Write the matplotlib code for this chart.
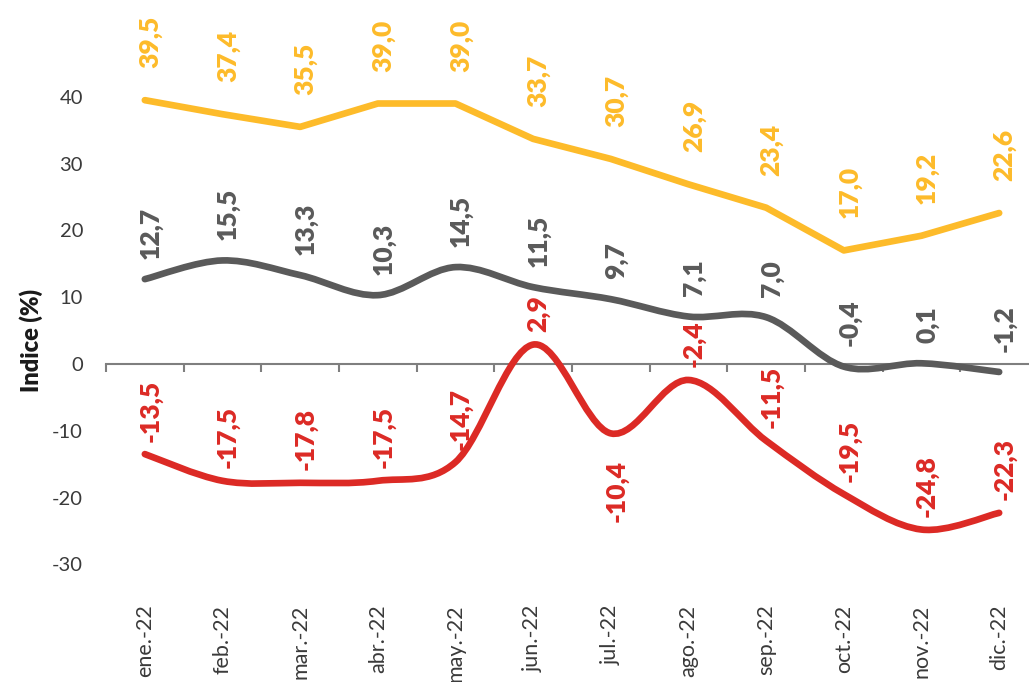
import numpy as np
import matplotlib
matplotlib.use('Agg')
import matplotlib.pyplot as plt
from matplotlib.path import Path
from matplotlib.patches import PathPatch

plt.rcParams['font.family'] = ['Lato', 'DejaVu Sans']
plt.rcParams['axes.unicode_minus'] = False

months = ['ene.-22', 'feb.-22', 'mar.-22', 'abr.-22', 'may.-22', 'jun.-22',
          'jul.-22', 'ago.-22', 'sep.-22', 'oct.-22', 'nov.-22', 'dic.-22']
yellow_vals = [39.5, 37.4, 35.5, 39.0, 39.0, 33.7, 30.7, 26.9, 23.4, 17.0, 19.2, 22.6]
gray_vals = [12.7, 15.5, 13.3, 10.3, 14.5, 11.5, 9.7, 7.1, 7.0, -0.4, 0.1, -1.2]
red_vals = [-13.5, -17.5, -17.8, -17.5, -14.7, 2.9, -10.4, -2.4, -11.5, -19.5, -24.8, -22.3]

c_yellow = '#FDBB2A'
c_gray = '#5A5A5A'
c_red = '#DC2A25'


def smooth_path(xs, ys):
    # catmull-rom -> cubic bezier, like excel's smoothed line
    pts = np.column_stack([xs, ys]).astype(float)
    n = len(pts)
    verts = [pts[0]]
    codes = [Path.MOVETO]
    for i in range(n - 1):
        p0 = pts[max(i - 1, 0)]
        p1 = pts[i]
        p2 = pts[i + 1]
        p3 = pts[min(i + 2, n - 1)]
        verts += [p1 + (p2 - p0) / 6, p2 - (p3 - p1) / 6, p2]
        codes += [Path.CURVE4] * 3
    return Path(verts, codes)


fig = plt.figure(figsize=(10.29, 6.82), dpi=100)
ax = fig.add_axes([106 / 1029, 87 / 682, 932 / 1029, 595 / 682])
ymin, ymax = -34.6, 54.5
ax.set_xlim(-0.5, 11.5)
ax.set_ylim(ymin, ymax)

x = np.arange(len(months))
lw = 4.8

ax.plot(x, yellow_vals, color=c_yellow, lw=lw, solid_capstyle='round',
        solid_joinstyle='round', zorder=3)
for vals, col in [(gray_vals, c_gray), (red_vals, c_red)]:
    patch = PathPatch(smooth_path(x, vals), fill=False, edgecolor=col, lw=lw,
                      capstyle='round', joinstyle='round', zorder=3)
    ax.add_patch(patch)


def fmt(v):
    return '{:.1f}'.format(v).replace('.', ',')


label_kw = dict(textcoords='offset points', rotation=90, ha='center',
                fontsize=19, fontweight='heavy', zorder=4)
for i, v in enumerate(yellow_vals):
    ax.annotate(fmt(v), (i, v), xytext=(4, 23), va='bottom', color=c_yellow, **label_kw)
for i, v in enumerate(gray_vals):
    ax.annotate(fmt(v), (i, v), xytext=(4, 14.5), va='bottom', color=c_gray, **label_kw)
for i, v in enumerate(red_vals):
    if i == 6:
        ax.annotate(fmt(v), (i, v), xytext=(4, -19), va='top', color=c_red, **label_kw)
    else:
        ax.annotate(fmt(v), (i, v), xytext=(4, 9), va='bottom', color=c_red, **label_kw)

# axes styling
for s in ax.spines.values():
    s.set_visible(False)
ax.set_xticks(x)
ax.set_xticklabels(months, rotation=90, va='top', ha='center')
ax.set_yticks(np.arange(-30, 50, 10))
ax.tick_params(axis='x', length=0, pad=7, labelsize=15.5, labelcolor='#3A3A3A')
ax.tick_params(axis='y', length=0, pad=16.5, labelsize=14.5, labelcolor='#3A3A3A')

# zero line with category-boundary ticks
zero_pos = (0 - ymin) / (ymax - ymin)
secax = ax.secondary_xaxis(zero_pos)
secax.set_xticks(np.arange(-0.5, 12.5, 1))
secax.tick_params(axis='x', length=6, width=1.5, color='#7F7F7F',
                  direction='out', labelbottom=False, labeltop=False)
secax.spines['bottom'].set_color('#7F7F7F')
secax.spines['bottom'].set_linewidth(1.5)

fig.text(31 / 1029, 1 - 340 / 682, 'Indice (%)', rotation=90, ha='center',
         va='center', fontsize=17, fontweight='heavy', color='#1a1a1a')

fig.savefig('out.png', dpi=100)
